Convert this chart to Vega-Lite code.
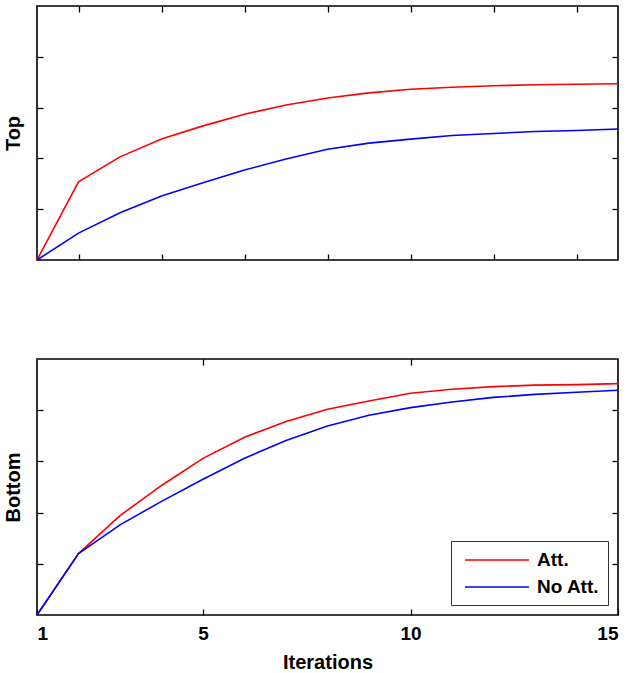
{
  "$schema": "https://vega.github.io/schema/vega-lite/v6.json",
  "background": "white",
  "padding": {"left": 2, "top": 4, "right": 4, "bottom": 1},
  "spacing": 93,
  "resolve": {"scale": {"color": "independent"}},
  "config": {
    "view": {"stroke": "black", "strokeWidth": 1.6},
    "font": "Liberation Sans",
    "axis": {
      "grid": false, "domain": false,
      "tickColor": "black", "tickSize": -6, "tickWidth": 1.3,
      "labelFont": "Liberation Sans", "labelFontWeight": "bold", "labelFontSize": 19, "labelColor": "black",
      "labelPadding": 15,
      "titleFont": "Liberation Sans", "titleFontWeight": "bold", "titleFontSize": 20, "titleColor": "black"
    },
    "legend": {
      "strokeColor": "#333333", "fillColor": "white", "padding": 8,
      "symbolType": "M-1,0H5.4", "symbolSize": 400, "symbolStrokeWidth": 1.6, "symbolOffset": 5,
      "labelFont": "Liberation Sans", "labelFontWeight": "bold", "labelFontSize": 19, "labelColor": "black",
      "labelOffset": 51, "rowPadding": 6
    }
  },
  "datasets": {
    "top": [
      {"iter": 1, "series": "Att.", "value": 0},
      {"iter": 2, "series": "Att.", "value": 1.54},
      {"iter": 3, "series": "Att.", "value": 2.03},
      {"iter": 4, "series": "Att.", "value": 2.38},
      {"iter": 5, "series": "Att.", "value": 2.64},
      {"iter": 6, "series": "Att.", "value": 2.87},
      {"iter": 7, "series": "Att.", "value": 3.05},
      {"iter": 8, "series": "Att.", "value": 3.19},
      {"iter": 9, "series": "Att.", "value": 3.29},
      {"iter": 10, "series": "Att.", "value": 3.36},
      {"iter": 11, "series": "Att.", "value": 3.40},
      {"iter": 12, "series": "Att.", "value": 3.43},
      {"iter": 13, "series": "Att.", "value": 3.45},
      {"iter": 14, "series": "Att.", "value": 3.46},
      {"iter": 15, "series": "Att.", "value": 3.47},
      {"iter": 1, "series": "No Att.", "value": 0},
      {"iter": 2, "series": "No Att.", "value": 0.53},
      {"iter": 3, "series": "No Att.", "value": 0.93},
      {"iter": 4, "series": "No Att.", "value": 1.26},
      {"iter": 5, "series": "No Att.", "value": 1.52},
      {"iter": 6, "series": "No Att.", "value": 1.77},
      {"iter": 7, "series": "No Att.", "value": 1.99},
      {"iter": 8, "series": "No Att.", "value": 2.18},
      {"iter": 9, "series": "No Att.", "value": 2.30},
      {"iter": 10, "series": "No Att.", "value": 2.38},
      {"iter": 11, "series": "No Att.", "value": 2.45},
      {"iter": 12, "series": "No Att.", "value": 2.49},
      {"iter": 13, "series": "No Att.", "value": 2.53},
      {"iter": 14, "series": "No Att.", "value": 2.55},
      {"iter": 15, "series": "No Att.", "value": 2.58}
    ],
    "bottom": [
      {"iter": 1, "series": "Att.", "value": 0},
      {"iter": 2, "series": "Att.", "value": 1.2},
      {"iter": 3, "series": "Att.", "value": 1.94},
      {"iter": 4, "series": "Att.", "value": 2.53},
      {"iter": 5, "series": "Att.", "value": 3.06},
      {"iter": 6, "series": "Att.", "value": 3.47},
      {"iter": 7, "series": "Att.", "value": 3.78},
      {"iter": 8, "series": "Att.", "value": 4.02},
      {"iter": 9, "series": "Att.", "value": 4.18},
      {"iter": 10, "series": "Att.", "value": 4.33},
      {"iter": 11, "series": "Att.", "value": 4.41},
      {"iter": 12, "series": "Att.", "value": 4.46},
      {"iter": 13, "series": "Att.", "value": 4.49},
      {"iter": 14, "series": "Att.", "value": 4.50},
      {"iter": 15, "series": "Att.", "value": 4.52},
      {"iter": 1, "series": "No Att.", "value": 0},
      {"iter": 2, "series": "No Att.", "value": 1.2},
      {"iter": 3, "series": "No Att.", "value": 1.76},
      {"iter": 4, "series": "No Att.", "value": 2.22},
      {"iter": 5, "series": "No Att.", "value": 2.65},
      {"iter": 6, "series": "No Att.", "value": 3.06},
      {"iter": 7, "series": "No Att.", "value": 3.41},
      {"iter": 8, "series": "No Att.", "value": 3.69},
      {"iter": 9, "series": "No Att.", "value": 3.90},
      {"iter": 10, "series": "No Att.", "value": 4.05},
      {"iter": 11, "series": "No Att.", "value": 4.16},
      {"iter": 12, "series": "No Att.", "value": 4.25},
      {"iter": 13, "series": "No Att.", "value": 4.31},
      {"iter": 14, "series": "No Att.", "value": 4.35},
      {"iter": 15, "series": "No Att.", "value": 4.39}
    ]
  },
  "vconcat": [
    {
      "width": 581, "height": 254,
      "data": {"name": "top"},
      "layer": [
        {
          "mark": {"type": "line", "strokeWidth": 1.6},
          "encoding": {
            "x": {"field": "iter", "type": "quantitative", "scale": {"domain": [1, 15], "nice": false, "zero": false},
                  "axis": {"values": [2, 4, 6, 8, 10, 12, 14], "labels": false, "title": null}},
            "y": {"field": "value", "type": "quantitative", "scale": {"domain": [0, 5], "nice": false},
                  "axis": {"values": [1, 2, 3, 4], "labels": false, "title": "Top", "titlePadding": 13}},
            "color": {"field": "series", "type": "nominal", "scale": {"domain": ["Att.", "No Att."], "range": ["#ff0000", "#0000ff"]}, "legend": null}
          }
        },
        {
          "mark": {"type": "line", "strokeOpacity": 0},
          "encoding": {
            "x": {"field": "iter", "type": "quantitative",
                  "axis": {"orient": "top", "values": [2, 4, 6, 8, 10, 12, 14], "labels": false, "title": null}},
            "y": {"field": "value", "type": "quantitative",
                  "axis": {"orient": "right", "values": [1, 2, 3, 4], "labels": false, "title": null}},
            "detail": {"field": "series"}
          }
        }
      ],
      "resolve": {"axis": {"x": "independent", "y": "independent"}}
    },
    {
      "width": 581, "height": 256,
      "data": {"name": "bottom"},
      "layer": [
        {
          "mark": {"type": "line", "strokeWidth": 1.6},
          "encoding": {
            "x": {"field": "iter", "type": "quantitative", "scale": {"domain": [1, 15], "nice": false, "zero": false},
                  "axis": {"values": [1, 5, 10, 15], "title": "Iterations", "titlePadding": 9}},
            "y": {"field": "value", "type": "quantitative", "scale": {"domain": [0, 5], "nice": false},
                  "axis": {"values": [1, 2, 3, 4], "labels": false, "title": "Bottom", "titlePadding": 13}},
            "color": {"field": "series", "type": "nominal", "scale": {"domain": ["Att.", "No Att."], "range": ["#ff0000", "#0000ff"]},
                      "legend": {"orient": "bottom-right", "title": null, "offset": 10}}
          }
        },
        {
          "mark": {"type": "line", "strokeOpacity": 0},
          "encoding": {
            "x": {"field": "iter", "type": "quantitative",
                  "axis": {"orient": "top", "values": [5, 10], "labels": false, "title": null}},
            "y": {"field": "value", "type": "quantitative",
                  "axis": {"orient": "right", "values": [1, 2, 3, 4], "labels": false, "title": null}},
            "detail": {"field": "series"}
          }
        }
      ],
      "resolve": {"axis": {"x": "independent", "y": "independent"}}
    }
  ]
}
